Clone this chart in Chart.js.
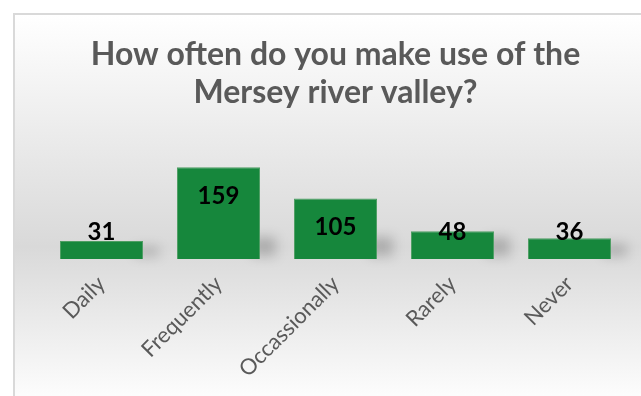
<!DOCTYPE html>
<html>
<head>
<meta charset="utf-8">
<script src="https://cdn.jsdelivr.net/npm/chart.js@4.4.1/dist/chart.umd.min.js"></script>
<style>
  html, body { margin: 0; padding: 0; overflow: hidden; background: #fff; }
  .frame {
    position: absolute;
    left: 13px;
    top: 13px;
    width: 646px;
    height: 400px;
    border: 2px solid #d9d9d9;
    background: linear-gradient(to bottom, #ffffff 0%, #d9d9d9 58%, #ffffff 98%);
  }
  canvas { display: block; }
</style>
</head>
<body>
<div class="frame">
  <canvas id="usageChart" width="646" height="400"></canvas>
</div>
<script>
const titleLines = ['How often do you make use of the', 'Mersey river valley?'];
const categories = ['Daily', 'Frequently', 'Occassionally', 'Rarely', 'Never'];
const responses = [31, 159, 105, 48, 36];

// soft shadow tucked behind the lower right corner of each bar
const barShadow = {
  id: 'barShadow',
  beforeDatasetsDraw(chart) {
    const ctx = chart.ctx;
    ctx.save();
    ctx.filter = 'blur(6px)';
    ctx.fillStyle = 'rgba(0,0,0,0.2)';
    chart.getDatasetMeta(0).data.forEach(bar => {
      const right = bar.x + bar.width / 2;
      const top = Math.max(bar.y + 6, bar.base - 22);
      ctx.fillRect(right - 8, top, 24, bar.base - top - 3);
    });
    ctx.restore();
  }
};

// value labels: inside the top of tall bars, straddling the top of short ones
const valueLabels = {
  id: 'valueLabels',
  afterDatasetsDraw(chart) {
    const ctx = chart.ctx;
    const ds = chart.data.datasets[0];
    ctx.save();
    ctx.font = 'bold 24px Lato';
    ctx.fillStyle = '#000';
    ctx.textAlign = 'center';
    ctx.textBaseline = 'middle';
    chart.getDatasetMeta(0).data.forEach((bar, i) => {
      const y = Math.min(bar.y + 29, bar.base - 27);
      ctx.fillText(String(ds.data[i]), bar.x, y);
    });
    ctx.restore();
  }
};

new Chart(document.getElementById('usageChart'), {
  type: 'bar',
  data: {
    labels: categories,
    datasets: [{
      data: responses,
      backgroundColor: '#16873c',
      borderColor: '#4e9e63',
      borderWidth: 1,
      barPercentage: 0.71,
      categoryPercentage: 1
    }]
  },
  options: {
    responsive: false,
    animation: false,
    layout: { padding: { left: 28, right: 33, top: 0, bottom: 0 } },
    plugins: {
      legend: { display: false },
      tooltip: { enabled: false },
      title: {
        display: true,
        text: titleLines,
        color: '#595959',
        font: { family: 'Lato', size: 32, weight: 'bold', lineHeight: 1.1875 },
        padding: { top: 21, bottom: 20 }
      }
    },
    scales: {
      x: {
        grid: { display: false },
        border: { display: false },
        ticks: {
          color: '#595959',
          font: { family: 'Lato', size: 22 },
          maxRotation: 45,
          minRotation: 45,
          padding: 4
        },
        afterFit(scale) { scale.height = 156; }
      },
      y: {
        display: false,
        min: 0,
        max: 220
      }
    }
  },
  plugins: [barShadow, valueLabels]
});
</script>
</body>
</html>
